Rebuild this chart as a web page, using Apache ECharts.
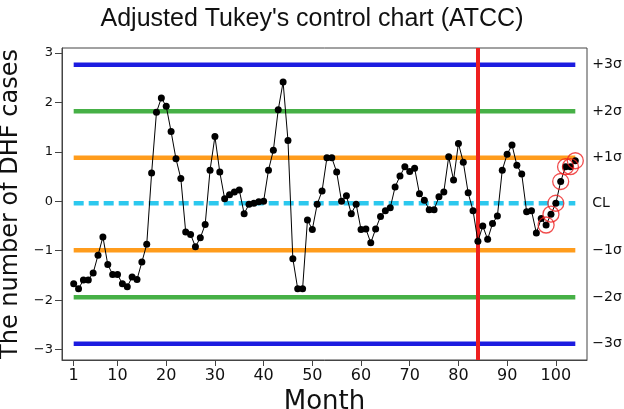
<!DOCTYPE html>
<html><head><meta charset="utf-8">
<script src="https://cdn.jsdelivr.net/npm/echarts@6/dist/echarts.min.js"></script>
<style>html,body{margin:0;padding:0;background:#fff}#c{width:624px;height:409px}</style>
</head><body><div id="c"></div>
<script>
const titleText = "Adjusted Tukey's control chart (ATCC)";
const xName = "Month";
const yName = "The number of DHF cases";
const xTickValues = [1, 10, 20, 30, 40, 50, 60, 70, 80, 90, 100];
const yTickValues = [-3, -2, -1, 0, 1, 2, 3];
const dhf = [-1.67,-1.77,-1.59,-1.59,-1.45,-1.09,-0.72,-1.28,-1.48,-1.48,
 -1.67,-1.73,-1.53,-1.58,-1.23,-0.87,0.57,1.80,2.09,1.92,
 1.41,0.86,0.46,-0.62,-0.67,-0.92,-0.74,-0.47,0.63,1.31,
 0.59,0.05,0.13,0.19,0.23,-0.25,-0.06,-0.04,-0.01,0.00,
 0.63,1.03,1.85,2.41,1.23,-1.16,-1.77,-1.77,-0.38,-0.57,
 -0.06,0.21,0.88,0.88,0.59,0.00,0.11,-0.25,-0.06,-0.57,
 -0.56,-0.84,-0.56,-0.31,-0.19,-0.13,0.29,0.51,0.70,0.60,
 0.67,0.15,0.02,-0.17,-0.17,0.09,0.19,0.90,0.43,1.17,
 0.79,0.17,-0.19,-0.81,-0.50,-0.77,-0.45,-0.30,0.63,0.95,
 1.14,0.73,0.55,-0.21,-0.19,-0.64,-0.35,-0.48,-0.26,-0.04,
 0.40,0.70,0.70,0.82];
const signalMonths = [98, 99, 100, 101, 102, 103, 104];
const changeMonth = 84;
const limitNames = ["+3σ", "+2σ", "+1σ", "CL", "\u22121σ", "\u22122σ", "\u22123σ"];
const limitValues = [2.76, 1.82, 0.88, -0.04, -0.99, -1.94, -2.88];
const limitColors = ["#1c1ce0", "#46b046", "#ff9c1c", "#2cc8ee", "#ff9c1c", "#46b046", "#1c1ce0"];
const limitSpan = [1, 104];

const font = "DejaVu Sans";
const chart = echarts.init(document.getElementById('c'), null, {renderer: 'canvas'});
const pts = dhf.map((v, i) => [i + 1, v]);
const limitSeries = limitValues.map((v, k) => ({
  type: 'line', name: limitNames[k], silent: true, symbol: 'none', z: 2,
  data: [[limitSpan[0], v], [limitSpan[1], v]],
  lineStyle: {color: limitColors[k], width: 4.5, type: limitNames[k] === 'CL' ? [10, 5] : 'solid'},
  endLabel: {show: true, formatter: limitNames[k], distance: 17, color: '#111', fontFamily: font, fontSize: 14}
}));
chart.setOption({
  animation: false,
  title: {text: titleText, left: 'center', top: 2, textStyle: {fontFamily: 'Liberation Sans', fontWeight: 'normal', fontSize: 25, color: '#111'}},
  grid: {left: 62, right: 37, top: 48, bottom: 49, show: true, borderColor: '#444', borderWidth: 1, outerBoundsMode: 'none', containLabel: false},
  xAxis: {
    type: 'value', min: -1.4, max: 106.4,
    name: xName, nameLocation: 'middle', nameGap: 28,
    nameTextStyle: {fontFamily: font, fontSize: 26, color: '#111', verticalAlign: 'top'},
    axisLine: {show: true, onZero: false, lineStyle: {color: '#444'}},
    axisTick: {show: true, customValues: xTickValues, length: 6, lineStyle: {color: '#444'}},
    axisLabel: {customValues: xTickValues, fontFamily: font, fontSize: 16, color: '#111', margin: 8},
    splitLine: {show: false}
  },
  yAxis: {
    type: 'value', min: -3.21, max: 3.1,
    name: yName, nameLocation: 'middle', nameGap: 38, nameRotate: 90,
    nameTextStyle: {fontFamily: font, fontSize: 24, color: '#111'},
    axisLine: {show: true, onZero: false, lineStyle: {color: '#444'}},
    axisTick: {show: true, customValues: yTickValues, length: 7, lineStyle: {color: '#444'}},
    axisLabel: {customValues: yTickValues, fontFamily: font, fontSize: 13, color: '#111', margin: 9,
      formatter: v => (v < 0 ? '\u2212' + Math.abs(v) : String(v))},
    splitLine: {show: false}
  },
  series: [
    ...limitSeries,
    {
      type: 'line', name: 'DHF', data: pts, z: 5,
      symbol: 'circle', symbolSize: 7,
      itemStyle: {color: '#000'}, lineStyle: {color: '#000', width: 1},
      markLine: {
        silent: true, symbol: 'none', label: {show: false},
        lineStyle: {color: '#ee2020', width: 4, type: 'solid'},
        data: [{xAxis: changeMonth}]
      }
    },
    {
      type: 'scatter', name: 'signal', z: 6,
      data: signalMonths.map(m => [m, dhf[m - 1]]),
      symbol: 'circle', symbolSize: 16,
      itemStyle: {color: 'rgba(0,0,0,0)', borderColor: '#ee2020', borderWidth: 1.3}
    }
  ]
});
</script></body></html>
